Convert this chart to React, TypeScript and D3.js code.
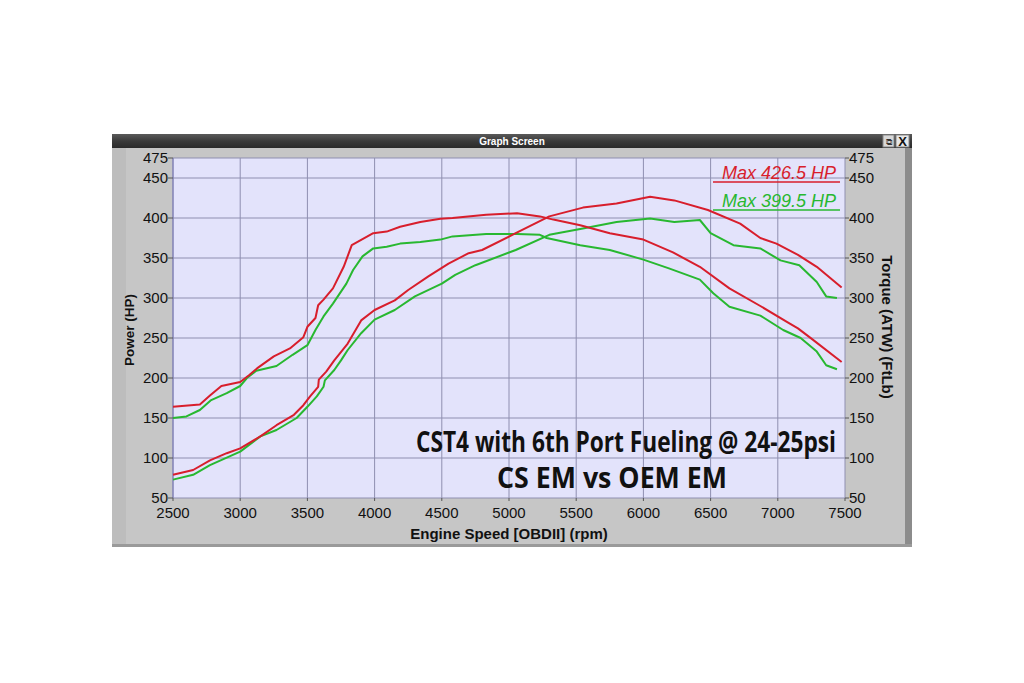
import React, { useLayoutEffect, useRef, useState } from "react";
import * as d3 from "d3";

const rpmTicks = [2500, 3000, 3500, 4000, 4500, 5000, 5500, 6000, 6500, 7000, 7500];
const yTicks = [50, 100, 150, 200, 250, 300, 350, 400, 450, 475];

// Torque, CS EM (red)
const redTqRpm = [2500, 2700, 2775, 2860, 3000, 3070, 3125, 3250, 3370, 3470, 3500, 3560, 3580, 3620, 3690, 3770, 3830, 3990, 4090, 4190, 4340, 4490, 4580, 4830, 5060, 5230, 5330, 5530, 5750, 6000, 6220, 6420, 6640, 6870, 7080, 7150, 7260, 7475];
const redTqVal = [164, 167, 178, 190, 195, 204, 212, 227, 237, 251, 264, 275, 291, 298, 312, 339, 366, 381, 383, 389, 395, 399, 400, 404, 406, 402, 398, 391, 381, 373, 357, 339, 312, 290, 269, 262, 248, 220];

// Torque, OEM EM (green)
const greenTqRpm = [2500, 2600, 2700, 2780, 2900, 3000, 3050, 3120, 3270, 3390, 3500, 3560, 3620, 3690, 3790, 3840, 3910, 3990, 4090, 4190, 4340, 4490, 4580, 4830, 5060, 5230, 5280, 5530, 5750, 6000, 6190, 6420, 6520, 6640, 6870, 7040, 7170, 7290, 7360, 7440];
const greenTqVal = [150, 152, 160, 172, 181, 190, 200, 209, 215, 229, 241, 260, 277, 293, 318, 335, 352, 362, 364, 368, 370, 373, 377, 380, 380, 379, 375, 366, 360, 348, 337, 323, 306, 289, 278, 260, 250, 233, 216, 211];

// Power, CS EM (red)
const redHpRpm = [2500, 2650, 2775, 2900, 3000, 3150, 3270, 3400, 3470, 3520, 3580, 3585, 3640, 3700, 3800, 3900, 4000, 4150, 4250, 4400, 4550, 4700, 4800, 5050, 5300, 5550, 5800, 6050, 6230, 6480, 6720, 6870, 6990, 7150, 7290, 7475];
const redHpVal = [79, 85, 97, 106, 112, 127, 141, 154, 166, 177, 189, 198, 208, 222, 243, 272, 285, 297, 310, 327, 343, 356, 360, 381, 402, 413, 418, 426.5, 422, 410, 393, 375, 368, 354, 339, 313];

// Power, OEM EM (green)
const greenHpRpm = [2500, 2650, 2775, 3000, 3150, 3270, 3420, 3500, 3570, 3620, 3630, 3700, 3750, 3800, 3900, 4000, 4150, 4300, 4500, 4600, 4750, 5050, 5300, 5550, 5800, 6050, 6230, 6420, 6500, 6670, 6870, 7020, 7160, 7290, 7360, 7440];
const greenHpVal = [73, 79, 91, 108, 127, 135, 150, 164, 177, 189, 197, 210, 222, 235, 256, 273, 285, 302, 318, 329, 341, 360, 379, 387, 395, 399.5, 395, 397.5, 381, 366, 362, 347, 341, 320, 302, 300];

const legendLabels = ["Max 426.5 HP", "Max 399.5 HP"];
const title1 = "CST4 with 6th Port Fueling @ 24-25psi";
const title2 = "CS EM vs OEM EM";

const RED = "#d81e2c";
const GREEN = "#28b830";

const PL = 173, PR = 845, PT = 158, PB = 498;

function FitText({ cx, y, width, size, children }: { cx: number; y: number; width: number; size: number; children: string }) {
  const ref = useRef<SVGTextElement>(null);
  const [sx, setSx] = useState(0.75);
  useLayoutEffect(() => {
    if (ref.current) {
      const w = ref.current.getComputedTextLength();
      if (w > 0) setSx(width / w);
    }
  }, [width, children]);
  return (
    <g transform={`translate(${cx},${y}) scale(${sx},1)`}>
      <text ref={ref} x={0} y={0} textAnchor="middle" fontFamily="'Open Sans', sans-serif" fontWeight="bold" fontSize={size} fill="#111">{children}</text>
    </g>
  );
}

export default function App() {
  const x = d3.scaleLinear().domain([2500, 7500]).range([PL, PR]);
  const y = d3.scaleLinear().domain([50, 475]).range([PB, PT]);
  const line = d3.line<[number, number]>().x(d => x(d[0])).y(d => y(d[1])).curve(d3.curveLinear);
  const mk = (r: number[], v: number[]) => line(r.map((rr, i) => [rr, v[i]] as [number, number])) || "";
  const series = [
    { d: mk(greenHpRpm, greenHpVal), c: GREEN },
    { d: mk(greenTqRpm, greenTqVal), c: GREEN },
    { d: mk(redHpRpm, redHpVal), c: RED },
    { d: mk(redTqRpm, redTqVal), c: RED },
  ];
  const font = "'Liberation Sans', Arial, sans-serif";
  return (
    <svg width={1024} height={683} style={{ position: "absolute", left: 0, top: 0, background: "#fff" }}>
      <defs>
        <linearGradient id="tb" x1="0" y1="0" x2="0" y2="1">
          <stop offset="0" stopColor="#5a5a5a" />
          <stop offset="0.5" stopColor="#3a3a3a" />
          <stop offset="1" stopColor="#2a2a2a" />
        </linearGradient>
      </defs>
      {/* window frame */}
      <rect x={112} y={134} width={800} height={413} fill="#c6c6c6" />
      <rect x={112} y={148} width={14} height={399} fill="#bdbdbd" />
      <rect x={905} y={134} width={7} height={413} fill="#8c8c8c" />
      <rect x={112} y={544} width={800} height={3} fill="#9a9a9a" />
      <rect x={112} y={134} width={800} height={14} fill="url(#tb)" />
      <text x={512} y={145} textAnchor="middle" fill="#fff" fontFamily={font} fontWeight="bold" fontSize={10}>Graph Screen</text>
      <rect x={883} y={135} width={11} height={12} fill="#d8d8d8" stroke="#888" />
      <text x={888.5} y={145} textAnchor="middle" fontSize={9} fontFamily={font} fill="#333">⧉</text>
      <rect x={896} y={135} width={13} height={12} fill="#e8e8e8" stroke="#888" />
      <text x={902.5} y={146} textAnchor="middle" fontSize={13} fontWeight="bold" fontFamily={font} fill="#111">X</text>

      {/* plot area */}
      <rect x={PL} y={PT} width={PR - PL} height={PB - PT} fill="#e3e3fb" />
      {rpmTicks.map(t => (
        <line key={"gx" + t} x1={x(t)} x2={x(t)} y1={PT} y2={PB} stroke="#8f8fb0" strokeWidth={1} />
      ))}
      {yTicks.map(t => (
        <line key={"gy" + t} x1={PL} x2={PR} y1={y(t)} y2={y(t)} stroke="#8f8fb0" strokeWidth={1} />
      ))}
      <line x1={PL} x2={PL} y1={PT} y2={PB} stroke="#7a7ab8" />

      {/* ticks and labels */}
      {yTicks.map(t => (
        <g key={"ly" + t}>
          <line x1={PL - 5} x2={PL} y1={y(t)} y2={y(t)} stroke="#555" />
          <text x={PL - 5} y={y(t) + 5} textAnchor="end" fontFamily={font} fontSize={15} fill="#111">{t}</text>
          <line x1={PR} x2={PR + 4} y1={y(t)} y2={y(t)} stroke="#555" />
          <text x={PR + 4} y={y(t) + 5} textAnchor="start" fontFamily={font} fontSize={15} fill="#111">{t}</text>
        </g>
      ))}
      {rpmTicks.map(t => (
        <g key={"lx" + t}>
          <line x1={x(t)} x2={x(t)} y1={PB} y2={PB + 3} stroke="#555" />
          <text x={x(t)} y={518} textAnchor="middle" fontFamily={font} fontSize={15} fill="#111">{t}</text>
        </g>
      ))}
      <text x={509} y={539} textAnchor="middle" fontFamily={font} fontWeight="bold" fontSize={15} fill="#111">Engine Speed [OBDII] (rpm)</text>
      <text transform="translate(134,330) rotate(-90)" textAnchor="middle" fontFamily={font} fontWeight="bold" fontSize={13.5} fill="#111">Power (HP)</text>
      <text transform="translate(882,327) rotate(90)" textAnchor="middle" fontFamily={font} fontWeight="bold" fontSize={15} fill="#111">Torque (ATW) (FtLb)</text>

      {/* curves */}
      {series.map((s, i) => (
        <path key={i} d={s.d} fill="none" stroke={s.c} strokeWidth={2} strokeLinejoin="round" />
      ))}

      {/* legend */}
      <text x={836} y={179} textAnchor="end" fontFamily={font} fontStyle="italic" fontSize={18} fill={RED}>{legendLabels[0]}</text>
      <line x1={713} x2={840} y1={182} y2={182} stroke={RED} strokeWidth={1.5} />
      <text x={836} y={207} textAnchor="end" fontFamily={font} fontStyle="italic" fontSize={18} fill={GREEN}>{legendLabels[1]}</text>
      <line x1={713} x2={840} y1={210} y2={210} stroke={GREEN} strokeWidth={1.5} />

      {/* annotation */}
      <FitText cx={626} y={452} width={420} size={28}>{title1}</FitText>
      <FitText cx={612} y={488} width={230} size={28}>{title2}</FitText>
    </svg>
  );
}
